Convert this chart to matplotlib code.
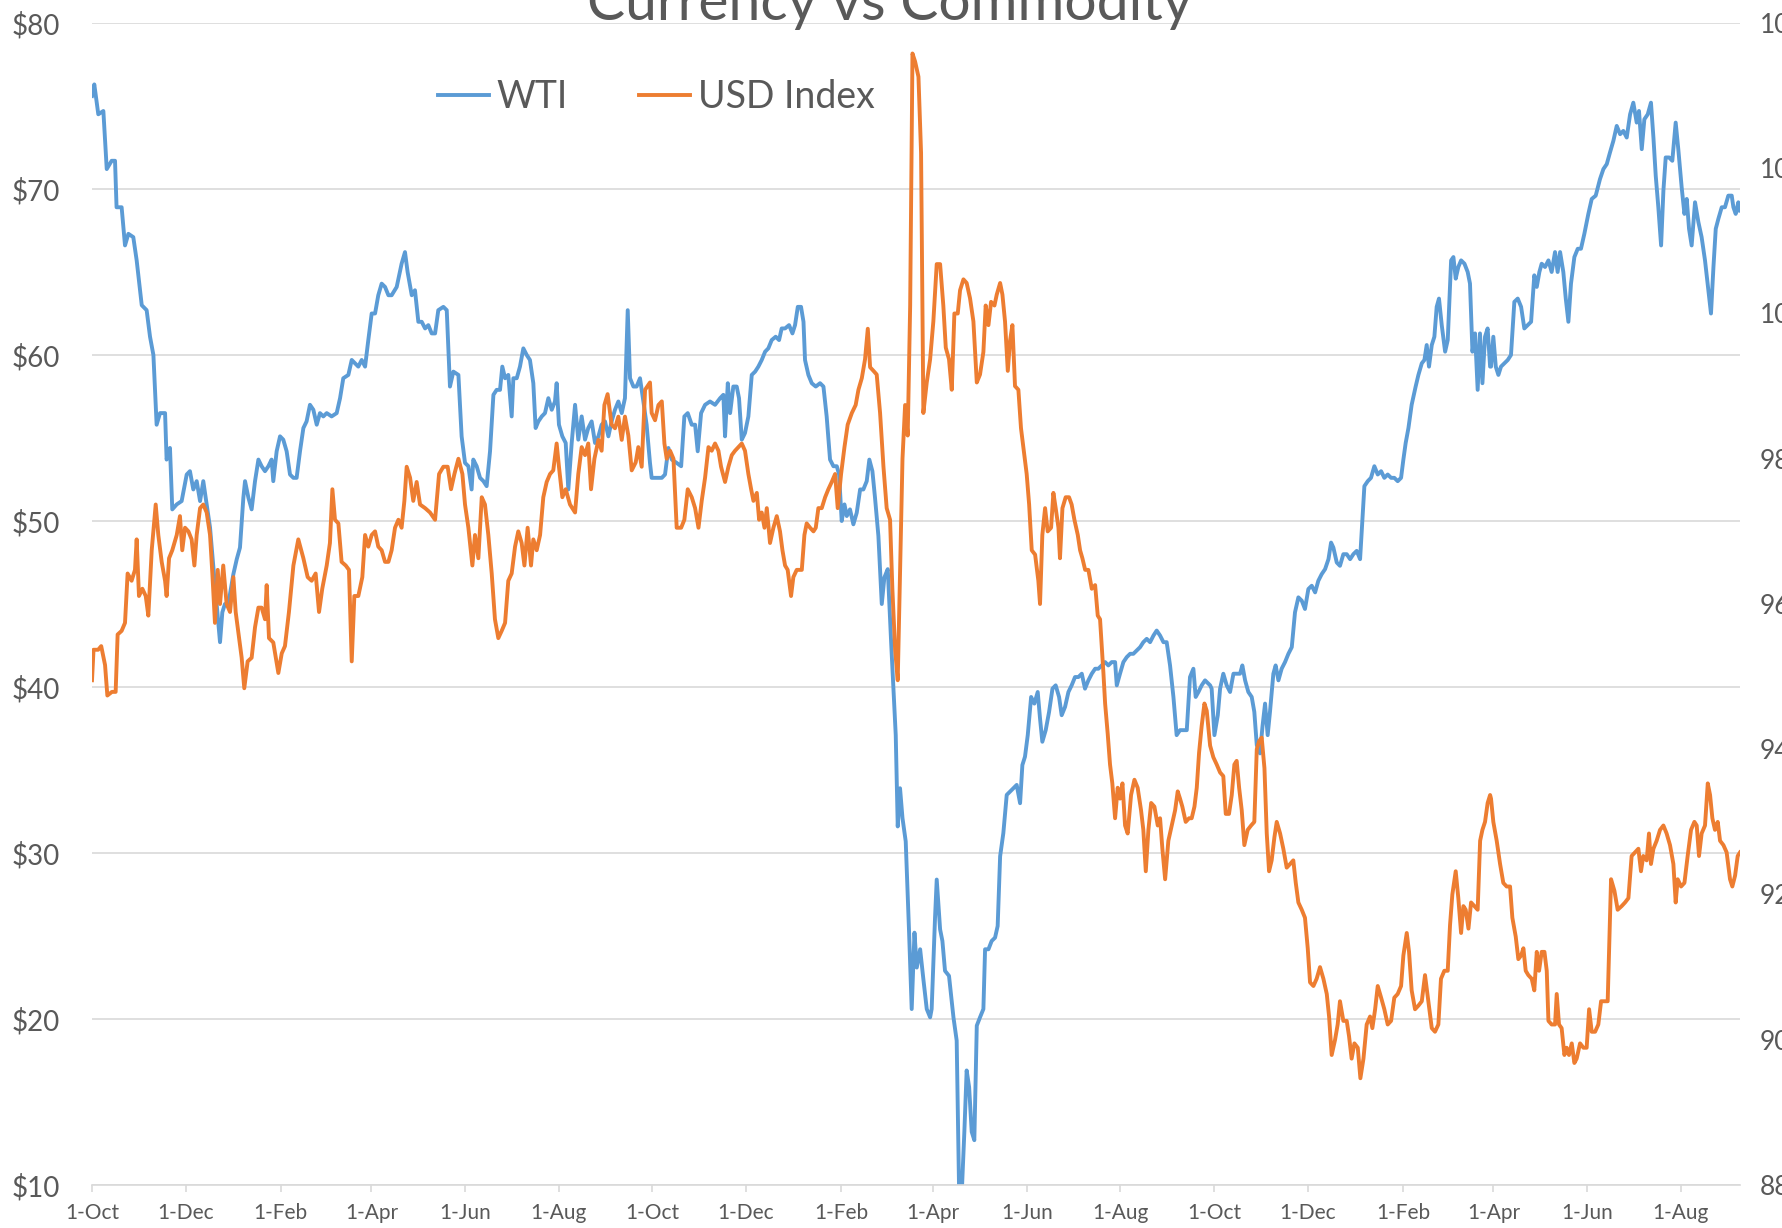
import numpy as np
import pandas as pd
import matplotlib
matplotlib.use("Agg")
import matplotlib.pyplot as plt
import matplotlib.dates as mdates
from matplotlib.ticker import FuncFormatter, FixedLocator

plt.rcParams['font.family'] = ['Lato', 'DejaVu Sans']

start = pd.Timestamp("2018-10-01")
end_day = 1073.6

# WTI crude ($/bbl): day offset from 1-Oct-2018 and price
wti_days = [0, 1.5, 4.1, 7.4, 9.6, 12.8, 15, 16, 19.3, 21.5, 23.7, 26.9, 29.1, 32.4, 35.6, 37.8, 40,
            42.1, 44.3, 47.6, 48.6, 50.8, 52.3, 55.2, 58.4, 61.7, 63.8, 66, 68.2, 70.4, 72.5, 74.7,
            76.9, 79, 81.2, 83.4, 84.9, 86.6, 88.8, 92.1, 94.3, 96.4, 98.6, 99.7, 101.9, 104, 106.2,
            108.4, 110.5, 112.7, 114.9, 117, 118.1, 120.3, 122.5, 124.6, 126.8, 129, 131.2, 133.3,
            135.5, 137.7, 139.8, 142, 144.2, 146.4, 148.5, 150.7, 152.9, 156.1, 159.4, 161.6, 163.7,
            167, 169.2, 171.3, 173.5, 175.7,
            177.9, 180, 182.2, 184.4, 186.5, 188.7, 190.9, 193.1, 195.2, 198.5, 201.7, 203.9, 205.6,
            208.3, 210.4, 212.6, 214.8, 217, 219.1, 221.3, 223.5, 225.6, 228.9, 231.1, 233.2, 235.4,
            238.7, 240.8, 243, 245.2, 247.3, 248.4, 250.6, 252.8, 255, 257.1, 259.3, 261.5, 263.6,
            265.8, 267.3, 269.1, 271.2, 273.4, 274.5, 276.7, 278.8, 281, 283.2, 285.3, 287.5, 289,
            290.8, 293, 295.1, 297.3, 299.5, 301.6, 302.7, 304.2, 306.4, 308.6, 310.3, 312.5, 314.7,
            316.8, 319, 321.2, 323.3, 325.5, 327.7, 329.9, 332, 334.2, 336.4, 338.5, 340.7, 342.9,
            345.1, 347.2, 349, 350.5, 352.7, 354.8, 357, 359.2, 361.3, 363.5,
            364.6, 367.9, 371.2, 373.3, 375.5, 377.7, 380.9, 383.8, 385.9, 388.1, 390.7, 392.9,
            394.6, 396.8, 399.4, 402.6, 405.9, 409.2, 411.3, 412.4, 414.2, 415.7, 417.8, 420, 421.5,
            423.3, 425.4, 427.6, 429.8, 432, 434.1, 436.3, 438.5, 440.6, 442.8, 445.4, 447.6, 449.3,
            451.5, 454.1, 456.3, 458, 459.8, 461.9, 463.5, 464.5, 466.7, 468.9, 471.5, 474.3, 476.5,
            478.6, 480.8, 483, 485.2, 486.7, 488.4, 490.2, 491.7, 493.8, 496, 498.2, 500.4, 502.5,
            504.7, 506.4, 508.4, 510.1, 512.3, 514.5, 516.2, 518.4, 520.6, 522.1, 523.6, 524.9,
            526.4, 528, 530.1, 532.3, 534, 535.8, 537.3, 539.5, 541.6, 543.8, 546,
            547, 549.2, 550.3, 552.5, 554, 555.7, 558.3, 561.2, 563.3, 564.9, 566.6, 568.3, 569.8,
            571.4, 573.1, 574.8, 576.4, 578.5, 580.7, 581.8, 584, 586.1, 588.3, 590, 591.6, 593.7,
            595.9, 598.1, 600.2, 602.4, 604.6, 606.1, 607.8, 609.6, 611.8, 613.9, 616.1, 617.6,
            619.1, 621.3, 623.5, 625.7, 627.8, 630, 631.7, 633.9, 636.1, 638.2, 640.4, 642.6, 644.8,
            646.9, 649.1, 651.3, 653.5, 655.6, 657.8, 660, 662.1, 664.3, 666.5, 667.6, 669.7, 671.9,
            674.1, 676.3, 678.4, 680.6, 682.8, 684.9, 687.1, 689.3, 691.5, 693.6, 695.8, 698, 700.1,
            702.3, 704.5, 706.6, 708.8, 711, 713.2, 715.3, 717.5, 719, 720.8, 722.9, 725.1, 728.4,
            729.4, 731.2, 733.4, 734.9, 737, 739.2, 741.4, 743.6, 745.7, 747.9, 749.4, 751.2, 753.3,
            755.5, 757.2, 758.8, 760.9, 762.5, 764.2, 765.9, 767.4, 769.6, 771.1, 772.9, 775, 777.2,
            779.4, 781.6, 783.7, 785.9, 788.1, 790.2, 792.4, 794.6, 796.8, 798.9, 801.1, 803.3,
            805.5, 807.2, 808.7, 810.9, 813, 815.2, 817.4, 819.6, 821.7, 823.9, 826.1, 827.6, 828.9,
            831.1, 833.2, 835.4, 837.6, 839.8, 841.9, 844.1, 846.3, 848.4, 850.6, 852.8, 854.3,
            855.8, 857.6, 859.7, 862.3, 864.1, 866.3, 868, 869.5, 871, 872.8, 874.5, 876, 877.5,
            879.3, 881.5, 883.2, 885.4, 886.9, 888.4, 890.1, 891.9, 894.1, 896.2, 897.7, 899.3, 901,
            902.7, 904.2, 905.8, 907.5, 909.2, 910.8,
            911.4, 912.9, 914.5, 916.2, 917.9, 920.1, 922.3, 924.4, 926.6, 928.8, 931, 933.1, 935.3,
            937.5, 939.6, 941.2, 942.9, 944.4, 946.6, 948.8, 950.9, 953.1, 954.8, 956.4, 958.5,
            960.1, 961.8, 963.5, 965.7, 967.9, 970, 972.2, 974.8, 977, 979.6, 982.4, 984.6, 986.8,
            988.9, 991.1, 993.3, 995.5, 997.6, 999.8, 1002, 1004.1, 1006.3, 1007.8, 1009.6, 1011.3,
            1013.5, 1015.6, 1017.2, 1018.7, 1020.4, 1022.2, 1023.7, 1025.2, 1027.4, 1029.5, 1031.7,
            1033.4, 1035.6, 1037.4, 1038.9, 1040.4, 1042.1, 1044.3, 1046.5, 1048.6, 1050.8, 1053,
            1054.7, 1056.3, 1057.8, 1059.5, 1061.7, 1063.8, 1066, 1068.2, 1069.3, 1070.8, 1072.5,
            1073.6]
wti_vals = [75.6, 76.3, 74.5, 74.7, 71.2, 71.7, 71.7, 68.9, 68.9, 66.6, 67.3, 67.1, 65.7, 63.0, 62.7,
            61.1, 60.0, 55.8, 56.5, 56.5, 53.7, 54.4, 50.7, 51.0, 51.2, 52.8, 53.0, 51.9, 52.4, 51.2,
            52.4, 51.0, 49.6, 47.3, 45.0, 42.7, 44.5, 45.0, 45.0, 46.8, 47.7, 48.4, 51.4, 52.4, 51.4,
            50.7, 52.4, 53.7, 53.3, 53.0, 53.3, 53.7, 52.4, 54.2, 55.1, 54.9, 54.2, 52.8, 52.6, 52.6,
            54.2, 55.6, 56.0, 57.0, 56.7, 55.8, 56.5, 56.3, 56.5, 56.3, 56.5, 57.4, 58.6, 58.8, 59.7,
            59.5, 59.3, 59.7,
            59.3, 60.9, 62.5, 62.5, 63.6, 64.3, 64.1, 63.6, 63.6, 64.1, 65.5, 66.2, 65.0, 63.6, 63.9,
            62.0, 62.0, 61.6, 61.8, 61.3, 61.3, 62.7, 62.9, 62.7, 58.1, 59.0, 58.8, 55.1, 53.5, 53.3,
            51.9, 53.7, 53.3, 52.6, 52.4, 52.1, 54.2, 57.6, 57.9, 57.9, 59.3, 58.6, 58.8, 56.3, 58.6,
            58.6, 59.3, 60.4, 60.0, 59.7, 58.3, 55.6, 56.0, 56.3, 56.5, 57.4, 56.7, 57.2, 58.3, 55.8,
            55.1, 54.7, 51.9, 54.7, 57.0, 54.9, 56.3, 54.9, 55.6, 56.0, 54.7, 55.1, 55.8, 56.0, 55.1,
            56.0, 56.7, 57.2, 56.5, 57.4, 62.7, 58.6, 58.1, 58.1, 58.6, 57.2, 55.8, 53.5,
            52.6, 52.6, 52.6, 52.8, 54.4, 53.7, 53.5, 53.3, 56.3, 56.5, 55.8, 55.8, 54.2, 56.5, 57.0,
            57.2, 57.0, 57.4, 57.6, 55.1, 58.3, 56.5, 58.1, 58.1, 57.4, 54.9, 55.3, 56.3, 58.8, 59.0,
            59.3, 59.7, 60.2, 60.4, 60.9, 61.1, 60.9, 61.6, 61.6, 61.8, 61.3, 61.8, 62.9, 62.9, 62.0,
            59.7, 58.8, 58.3, 58.1, 58.3, 58.1, 56.3, 53.7, 53.3, 53.3, 52.8, 50.0, 51.0, 50.3, 50.7,
            49.8, 50.5, 51.9, 51.9, 52.4, 53.7, 53.0, 51.4, 49.1, 45.0, 46.6, 47.1, 42.7, 39.9, 37.1,
            31.6, 33.9, 32.1, 30.7, 25.2, 20.6, 25.2, 23.1, 24.2, 22.4, 20.6, 20.1,
            20.6, 26.1, 28.4, 25.4, 24.7, 22.9, 22.6, 20.1, 18.7, 9.5, 9.5, 13.2, 16.9, 15.9, 13.2,
            12.7, 19.6, 20.1, 20.6, 24.2, 24.2, 24.7, 24.9, 25.6, 29.8, 31.2, 33.5, 33.7, 33.9, 34.1,
            33.0, 35.3, 35.8, 37.1, 39.4, 39.0, 39.7, 38.1, 36.7, 37.4, 38.5, 39.9, 40.1, 39.4, 38.3,
            38.8, 39.7, 40.1, 40.6, 40.6, 40.8, 39.9, 40.4, 40.8, 41.1, 41.1, 41.3, 41.5, 41.3, 41.5,
            41.5, 40.1, 40.8, 41.5, 41.8, 42.0, 42.0, 42.2, 42.4, 42.7, 42.9, 42.7, 43.1, 43.4, 43.1,
            42.7, 42.7, 41.3, 39.4, 37.1, 37.4, 37.4, 37.4, 40.6, 41.1, 39.4, 39.7, 40.1, 40.4, 40.1,
            39.9, 37.1, 38.3, 39.9, 40.8, 40.1, 39.7, 40.8, 40.8, 40.8, 41.3, 40.4, 39.7, 39.4, 38.5,
            36.5, 36.0, 37.6, 39.0, 37.1, 38.5, 40.8, 41.3, 40.4, 41.1, 41.5, 42.0, 42.4, 44.5, 45.4,
            45.2, 44.7, 45.9, 46.1, 45.7, 46.4, 46.8, 47.1, 47.7, 48.7, 48.4, 47.5, 47.3, 48.0, 48.0,
            47.7, 48.0, 48.2, 47.7, 50.0, 52.1, 52.4, 52.6, 53.3, 52.8, 53.0, 52.6, 52.8, 52.6, 52.6,
            52.4, 52.6, 53.7, 54.7, 55.6, 57.0, 58.1, 58.8, 59.5, 59.7, 60.6, 59.3, 60.6, 61.1, 62.9,
            63.4, 61.8, 60.2, 60.9, 65.7, 65.9, 64.6, 65.3, 65.7, 65.5, 65.0, 64.3, 60.2, 61.3, 57.9,
            61.3, 58.3, 61.1, 61.6, 59.3,
            59.3, 61.1, 59.3, 58.8, 59.3, 59.5, 59.7, 60.0, 63.2, 63.4, 62.9, 61.6, 61.8, 62.0, 64.8,
            64.1, 65.0, 65.5, 65.3, 65.7, 65.0, 66.2, 65.0, 66.2, 65.0, 63.4, 62.0, 64.3, 65.9, 66.4,
            66.4, 67.3, 68.5, 69.4, 69.6, 70.6, 71.2, 71.5, 72.2, 72.9, 73.8, 73.3, 73.5, 73.1, 74.5,
            75.2, 74.0, 74.7, 72.4, 74.2, 74.5, 75.2, 73.1, 70.8, 68.9, 66.6, 69.9, 71.9, 71.9, 71.7,
            74.0, 72.4, 70.1, 68.5, 69.4, 67.6, 66.6, 69.2, 68.0, 67.1, 65.7, 63.9, 62.5, 65.3, 67.6,
            68.2, 68.9, 68.9, 69.6, 69.6, 68.9, 68.5, 69.2, 68.7]

# USD index: day offset from 1-Oct-2018 and level
usd_days = [0, 1, 4, 6, 8.5, 10, 13, 15.4, 16.7, 19.3, 21.5, 23.2, 25.8, 28, 29.1, 30.6, 32.8, 35,
            36.7, 38.9, 41.5, 43.2, 45.4, 47.6, 48.6, 50.2, 52.3, 55.2, 57.3, 58.8, 60.6, 62.8, 64.9,
            66.7, 68.2, 70.4, 72.5, 74.7, 76.9, 78.4, 80.1, 81.9, 83.4, 85.5, 87.7, 89.9, 92.1, 93.6,
            95.8, 97.5, 99.2, 101.4, 104, 106.2, 108.4, 110.5, 112.7, 113.8, 115.3, 118.1, 121.4,
            123.6, 125.7, 128.3, 131.2, 134.4, 137.7, 140.5, 143.1, 145.7, 147.9, 150, 152.9, 155,
            156.6, 158.3, 160.5, 162.6, 165.3, 167.4, 169.2, 170.9, 173.5, 176.1,
            177.9, 180, 182.2, 184.4, 186.5, 188.7, 190.9, 193.1, 195.2, 197.4, 199.6, 201.7, 203.5,
            205, 207.2, 209.3, 211.5, 213.7, 217, 220.2, 223.5, 226.1, 228.9, 231.7, 233.9, 236.1,
            238.7, 241.3, 243, 245.2, 247.8, 249.5, 251.7, 253.9, 256, 258.2, 260.4, 262.5, 264.7,
            266.9, 269.1, 271.2, 273.4, 275.6, 277.7, 279.9, 281.7, 283.8, 286, 287.5, 289.7, 291.9,
            294, 296.2, 298.4, 300.5, 302.7, 304.2, 306.4, 308.6, 311.4, 314.7, 316.8, 319, 321.2,
            323.3, 325.1, 327.3, 329.9, 332, 333.8, 335.9, 338.5, 340.7, 342.9, 345.1, 347.2, 349.4,
            351.6, 354.2, 355.9, 358.1, 360.3, 363.5,
            364.6, 366.8, 369, 371.2, 372.9, 374.4, 376.6, 378.8, 380.9, 383.8, 385.9, 388.1, 390.7,
            392.9, 395.1, 397.2, 399.4, 401.6, 403.7, 405.9, 408.1, 409.8, 412.4, 414.6, 416.8,
            418.9, 421.1, 423.3, 425.4, 427.6, 429.4, 430.9, 433.1, 434.6, 436.3, 438.1, 439.6,
            441.7, 443.9, 446.1, 448.2, 449.8, 451.5, 453.2, 455.4, 456.9, 459.1, 462.4, 464.1,
            465.6, 467.8, 470, 471.5, 473.2, 475.4, 477.6, 479.7, 481.9, 484.1, 485.8, 488, 490.2,
            492.3, 495, 497.5, 499.3, 501.5, 503.6, 505.4, 506.9, 509.1, 511.2, 513.4, 515.6, 517.7,
            519.9, 521.4, 523.2, 524.9, 526.4, 528, 529.7, 531.4, 533, 534.5, 536.2, 538.4, 540.1,
            541.6, 543.8, 546,
            548.1, 550.3, 552.5, 554.6, 556.2, 558.3, 560.1, 561.8, 564, 565.5, 567.7, 569.8, 572,
            574.2, 576.4, 578.5, 580.7, 582.2, 584, 585.7, 587.9, 589.4, 591.6, 593.1, 594.8, 596.6,
            598.1, 599.6, 601.3, 603.5, 605.2, 607.4, 608.9, 610.5, 612.2, 614.4, 616.5, 617.6,
            619.1, 620.9, 622.6, 624.8, 626.3, 627.8, 629.6, 630.6, 632.2, 634.3, 636.5, 638.2, 640,
            642.2, 643.7, 645.2, 647, 649.1, 651.3, 653.5, 655.2, 656.7, 657.8, 658.9, 660, 661.7,
            663.2, 664.7, 666.5, 668.2, 669.7, 671.3, 673, 674.7, 676.9, 679.1, 681.2, 683.4, 684.9,
            686.5, 688.2, 690, 692.1, 694.3, 695.8, 697.3, 699.1, 701.2, 703.4, 705.6, 707.3, 708.8,
            710.3, 712.5, 714.7, 716.4, 718.2, 719.7, 721.2, 722.9, 724.7, 726.2, 728.4,
            730.5, 732.7, 734.9, 737, 738.6, 740.7, 742.5, 744.2, 745.7, 747.3, 749, 750.7, 752.9,
            755.1, 757.2, 758.8, 760.3, 762, 763.8, 765.3, 766.8, 768.5, 770.3, 771.8, 774, 776.1,
            778.3, 780.5, 782.6, 784.2, 785.9, 788.1, 790.2, 792, 793.5, 795.7, 797.8, 800, 802.2,
            804.4, 805.9, 807.6, 809.8, 811.5, 813, 815.2, 817.4, 818.9, 820.6, 822.4, 824.6, 826.3,
            828.3, 830.4, 832.6, 834.1, 835.9, 837.6, 839.8, 841.9, 844.1, 846.3, 848.4, 850.6,
            852.8, 854.3, 856.5, 858, 859.7, 861.9, 864.1, 866.3, 868.4, 870.6, 872.8, 874.9, 877.1,
            878.8, 881, 883.2, 884.7, 886.2, 888.4, 890.1, 891.9, 893.4, 894.9, 896.7, 898.4, 900.6,
            902.7, 904.3, 905.8, 907.5, 909.2, 910.8,
            911.4, 912.9, 915.1, 917.3, 919.4, 921.6, 923.8, 925.3, 927.5, 929.2, 931, 932.5, 934,
            935.7, 937.9, 939.6, 941.2, 942.7, 944.4, 946.2, 947.7, 948.8, 950.9, 953.1, 954.2,
            955.7, 957.4, 959.2, 960.7, 962.2, 964, 965.7, 967.2, 969.4, 971.6, 973.7, 975.3, 977,
            979.2, 981.3, 983.1, 985.2, 987.4, 989.6, 991.8, 993.9, 996.5, 998.7, 1000.9, 1003,
            1005.2, 1007.4, 1009.1, 1010.6, 1012.8, 1014.3, 1015.6, 1017.2, 1019.3, 1021.5, 1023.7,
            1025.8, 1028, 1030.2, 1031.7, 1033, 1035.2, 1037.4, 1039.5, 1041.7, 1043.9, 1045.4,
            1046.9, 1048.6, 1050.8, 1052.6, 1054.1, 1055.6, 1057.3, 1059.1, 1060.6, 1062.8, 1064.9,
            1067.1, 1068.6, 1070.4, 1072.1, 1073.6]
usd_vals = [94.95, 95.37, 95.37, 95.42, 95.16, 94.74, 94.79, 94.79, 95.58, 95.63, 95.74, 96.42,
            96.32, 96.47, 96.89, 96.11, 96.21, 96.11, 95.84, 96.74, 97.37, 96.95, 96.58, 96.32,
            96.11, 96.63, 96.74, 96.95, 97.21, 96.74, 97.05, 97.0, 96.89, 96.53, 96.95, 97.32,
            97.37, 97.26, 96.95, 96.42, 95.74, 96.47, 96.0, 96.53, 96.0, 95.89, 96.37, 95.89,
            95.53, 95.26, 94.84, 95.21, 95.26, 95.68, 95.95, 95.95, 95.79, 96.26, 95.53, 95.47,
            95.05, 95.32, 95.42, 95.89, 96.53, 96.89, 96.63, 96.37, 96.32, 96.42, 95.89, 96.21,
            96.53, 96.84, 97.58, 97.16, 97.11, 96.58, 96.53, 96.47, 95.21, 96.11, 96.11, 96.37,
            96.95, 96.79, 96.95, 97.0, 96.79, 96.74, 96.58, 96.58, 96.74, 97.05, 97.16, 97.05,
            97.42, 97.89, 97.74, 97.42, 97.68, 97.37, 97.32, 97.26, 97.16, 97.79, 97.89, 97.89,
            97.58, 97.79, 98.0, 97.79, 97.37, 97.05, 96.53, 96.95, 96.63, 97.47, 97.37, 96.95,
            96.42, 95.79, 95.53, 95.63, 95.74, 96.32, 96.42, 96.79, 97.0, 96.84, 96.53, 97.05,
            96.53, 96.89, 96.74, 96.95, 97.47, 97.68, 97.79, 97.84, 98.21, 97.89, 97.47, 97.58,
            97.37, 97.26, 97.79, 98.16, 98.05, 98.21, 97.58, 98.0, 98.26, 98.11, 98.74, 98.89,
            98.47, 98.42, 98.58, 98.26, 98.58, 98.32, 97.84, 97.95, 98.16, 97.89, 98.95, 99.05,
            98.63, 98.53, 98.74, 98.79, 98.21, 98.0, 98.11, 98.0, 97.05, 97.05, 97.16, 97.58,
            97.47, 97.32, 97.05, 97.42, 97.74, 98.16, 98.11, 98.21, 98.11, 97.89, 97.68, 97.89,
            98.05, 98.11, 98.16, 98.21, 98.11, 97.79, 97.58, 97.42, 97.53, 97.16, 97.26, 97.05,
            97.32, 96.84, 97.05, 97.21, 97.0, 96.74, 96.53, 96.47, 96.11, 96.37, 96.47, 96.47,
            96.95, 97.11, 97.05, 97.0, 97.05, 97.32, 97.32, 97.47, 97.58, 97.68, 97.79, 97.32,
            97.79, 98.16, 98.47, 98.63, 98.74, 98.95, 99.11, 99.37, 99.79, 99.26, 99.21, 99.16,
            98.63, 97.89, 97.32, 97.16, 96.21, 95.37, 94.95, 96.42, 98.0, 98.74, 98.32, 100.11,
            103.58, 103.47, 103.26, 102.21, 98.63, 99.05, 99.37,
            99.89, 100.68, 100.68, 100.11, 99.53, 99.37, 98.95, 100.0, 100.0, 100.32, 100.47,
            100.42, 100.21, 99.89, 99.05, 99.16, 99.47, 100.11, 99.84, 100.16, 100.11, 100.26,
            100.42, 100.26, 99.89, 99.21, 99.63, 99.84, 99.0, 98.95, 98.42, 98.05, 97.79, 97.37,
            96.74, 96.68, 96.32, 96.0, 96.95, 97.32, 97.0, 97.05, 97.53, 97.32, 97.05, 96.63,
            97.32, 97.47, 97.47, 97.37, 97.16, 96.95, 96.74, 96.63, 96.47, 96.47, 96.21, 96.26,
            95.84, 95.79, 95.42, 95.05, 94.63, 94.21, 93.79, 93.53, 93.05, 93.47, 93.32, 93.53,
            92.95, 92.84, 93.37, 93.58, 93.47, 93.16, 92.89, 92.32, 92.89, 93.26, 93.21, 92.95,
            93.05, 92.63, 92.21, 92.74, 92.95, 93.16, 93.42, 93.32, 93.21, 93.0, 93.05, 93.05,
            93.21, 93.47, 93.95, 94.32, 94.63, 94.53, 94.05,
            93.89, 93.79, 93.68, 93.63, 93.11, 93.11, 93.37, 93.79, 93.84, 93.47, 93.16, 92.68,
            92.89, 92.95, 93.0, 94.0, 94.11, 94.16, 93.74, 92.84, 92.32, 92.47, 92.79, 93.0,
            92.84, 92.63, 92.37, 92.42, 92.47, 92.16, 91.89, 91.79, 91.68, 91.26, 90.79, 90.74,
            90.84, 91.0, 90.84, 90.63, 90.32, 89.79, 90.0, 90.21, 90.53, 90.26, 90.26, 90.05,
            89.74, 89.95, 89.89, 89.47, 89.74, 90.21, 90.32, 90.16, 90.42, 90.74, 90.58, 90.42,
            90.21, 90.26, 90.58, 90.63, 90.74, 91.16, 91.47, 91.21, 90.68, 90.42, 90.47, 90.53,
            90.89, 90.53, 90.16, 90.11, 90.21, 90.84, 90.95, 90.95, 91.58, 92.0, 92.32, 91.95,
            91.47, 91.84, 91.79, 91.53, 91.89, 91.84, 91.79, 92.74, 92.89, 93.0, 93.26, 93.37,
            93.32, 93.0, 92.74, 92.42, 92.16, 92.11, 92.11, 91.68, 91.42, 91.11, 91.16, 91.26,
            90.95, 90.89, 90.84, 90.68, 91.21, 90.95, 91.21, 91.21, 90.95, 90.26, 90.21, 90.21,
            90.63, 90.21, 90.16, 89.79, 89.89, 89.79, 89.95, 89.68, 89.74, 89.95, 89.89, 89.89,
            90.42, 90.11, 90.11, 90.21, 90.53, 90.53, 90.53, 92.21, 92.05, 91.79, 91.84, 91.89,
            91.95, 92.53, 92.58, 92.63, 92.32, 92.53, 92.47, 92.84, 92.42, 92.63, 92.74, 92.89,
            92.95, 92.84, 92.68, 92.42, 91.89, 92.21, 92.11, 92.16, 92.53, 92.89, 93.0, 92.95,
            92.53, 92.84, 92.95, 93.53, 93.37, 93.05, 92.89, 93.0, 92.74, 92.68, 92.58, 92.21,
            92.11, 92.26, 92.53, 92.58]

wti_dates = start + pd.to_timedelta(wti_days, unit="D")
usd_dates = start + pd.to_timedelta(usd_days, unit="D")

blue = "#5B9BD5"
orange = "#ED7D31"
grid_c = "#D9D9D9"
text_c = "#595959"

W, H = 1783, 1228
fig = plt.figure(figsize=(W / 100, H / 100), dpi=100)
ax = fig.add_axes([92 / W, 43 / H, 1648 / W, 1162 / H])

l1, = ax.plot(wti_dates, wti_vals, color=blue, lw=2.8, label="WTI")
ax.set_ylim(10, 80)
ax.set_yticks(range(10, 81, 10))
ax.yaxis.set_major_formatter(FuncFormatter(lambda v, p: "$%d" % v))
ax.set_xlim(start, start + pd.Timedelta(days=end_day))
ax.yaxis.grid(True, color=grid_c, lw=1.2)
ax.set_axisbelow(True)
for s in ["top", "left", "right"]:
    ax.spines[s].set_visible(False)
ax.spines["bottom"].set_color(grid_c)
ax.spines["bottom"].set_linewidth(1.2)

# ticks every other month, first of month
ticks = pd.date_range("2018-10-01", "2021-08-01", freq="2MS")
ax.xaxis.set_major_locator(FixedLocator(mdates.date2num(ticks)))
ax.xaxis.set_major_formatter(FuncFormatter(lambda v, p: "1-" + mdates.num2date(v).strftime("%b")))
ax.tick_params(axis="x", length=5, width=1.2, color=grid_c, labelsize=15, labelcolor=text_c, pad=8)
ax.tick_params(axis="y", length=0, labelsize=20, labelcolor=text_c, pad=23)

ax2 = ax.twinx()
l2, = ax2.plot(usd_dates, usd_vals, color=orange, lw=2.8, label="USD Index")
ax2.set_ylim(88, 104)
ax2.set_yticks(range(88, 105, 2))
for s in ax2.spines.values():
    s.set_visible(False)
ax2.tick_params(axis="y", length=0, labelsize=19, labelcolor=text_c, pad=14)

ax2.legend([l1, l2], ["WTI", "USD Index"], loc="center left",
           bbox_to_anchor=(438 / W, 1 - 97 / H), bbox_transform=fig.transFigure,
           ncol=2, frameon=False, borderpad=0, borderaxespad=0, handlelength=1.36,
           handletextpad=0.2, columnspacing=1.9, fontsize=27, labelcolor=text_c)

fig.text(890 / W, 1 - 20 / H, "Currency vs Commodity", ha="center", va="baseline",
         fontsize=41, color=text_c)

fig.savefig("out.png", dpi=100)
